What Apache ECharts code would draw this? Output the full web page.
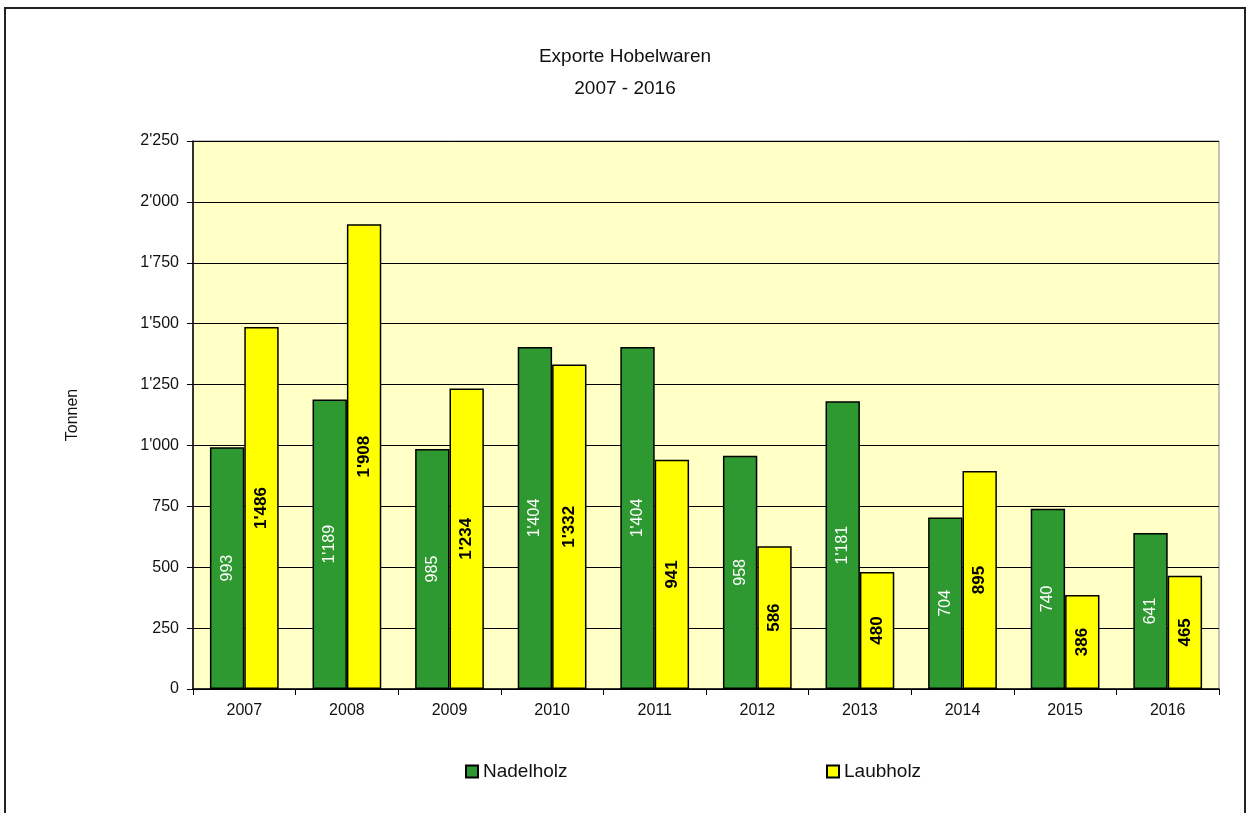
<!DOCTYPE html>
<html><head><meta charset="utf-8">
<script src="https://cdn.jsdelivr.net/npm/echarts@6/dist/echarts.min.js"></script>
<style>html,body{margin:0;padding:0;background:#fff}#c{width:1250px;height:813px}</style>
</head><body><div id="c"></div>
<script>
const categories = ['2007','2008','2009','2010','2011','2012','2013','2014','2015','2016'];
const nadelholz = [993, 1189, 985, 1404, 1404, 958, 1181, 704, 740, 641];
const laubholz = [1486, 1908, 1234, 1332, 941, 586, 480, 895, 386, 465];
const seriesNames = ['Nadelholz', 'Laubholz'];

function fmt(v){ return String(Math.round(v)).replace(/\B(?=(\d{3})+(?!\d))/g, "'"); }
const FONT = "'Liberation Sans', 'DejaVu Sans', sans-serif";
const chart = echarts.init(document.getElementById('c'));
chart.setOption({
  animation: false,
  backgroundColor: '#fff',
  textStyle: { fontFamily: FONT },
  graphic: [{ type: 'rect', shape: { x: 5, y: 8, width: 1240, height: 820 }, style: { fill: 'none', stroke: '#222', lineWidth: 2 }, silent: true }],
  title: {
    text: 'Exporte Hobelwaren\n2007 - 2016', left: 'center', top: 36,
    textStyle: { fontSize: 19, fontWeight: 'normal', color: '#111', lineHeight: 32, fontFamily: FONT }
  },
  legend: [
    { data: [seriesNames[0]], left: 460, top: 757, itemWidth: 12, itemHeight: 12, icon: 'rect',
      textStyle: { fontSize: 19, color: '#111' } },
    { data: [seriesNames[1]], left: 821, top: 757, itemWidth: 12, itemHeight: 12, icon: 'rect',
      textStyle: { fontSize: 19, color: '#111' } }
  ],
  grid: { left: 193, right: 31, top: 141, bottom: 124, show: true, backgroundColor: '#FFFFC6', borderColor: '#888', borderWidth: 1 },
  xAxis: {
    type: 'category', data: categories,
    axisLine: { lineStyle: { color: '#000', width: 1.5 } },
    axisTick: { show: true, length: 6, lineStyle: { color: '#000' } },
    axisLabel: { fontSize: 16, color: '#111', margin: 14 }
  },
  yAxis: {
    type: 'value', min: 0, max: 2250, interval: 250,
    name: 'Tonnen', nameLocation: 'middle', nameGap: 112, nameRotate: 90,
    nameTextStyle: { fontSize: 16, color: '#111' },
    axisLine: { show: true, lineStyle: { color: '#000', width: 1.5 } },
    axisTick: { show: true, length: 6, lineStyle: { color: '#000' } },
    axisLabel: { fontSize: 16, color: '#111', margin: 14, formatter: fmt },
    splitLine: { lineStyle: { color: '#000', width: 1.2 } }
  },
  series: [
    { name: seriesNames[0], type: 'bar', data: nadelholz, barGap: '0%', barCategoryGap: '33%',
      itemStyle: { color: '#2E9930', borderColor: '#000', borderWidth: 1.5 },
      label: { show: true, position: 'inside', rotate: 90, color: '#fff', fontSize: 16,
        formatter: p => fmt(p.value) } },
    { name: seriesNames[1], type: 'bar', data: laubholz,
      itemStyle: { color: '#FFFF00', borderColor: '#000', borderWidth: 1.5 },
      label: { show: true, position: 'inside', rotate: 90, color: '#000', fontSize: 17, fontWeight: 'bold',
        formatter: p => fmt(p.value) } }
  ]
});
</script></body></html>
